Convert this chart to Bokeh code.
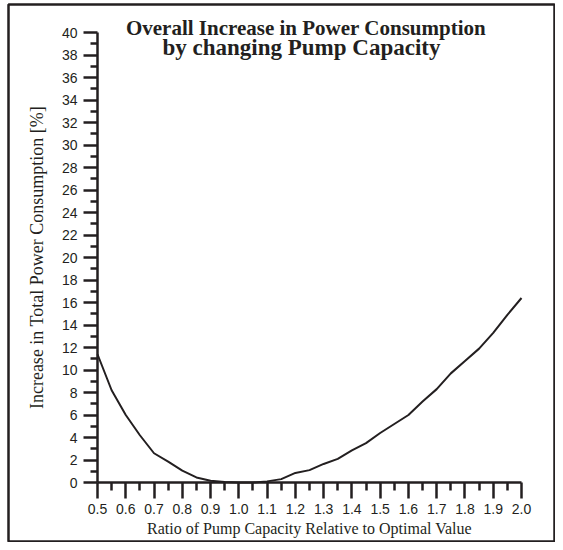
from bokeh.plotting import figure
from bokeh.models import FixedTicker, Range1d, Label
from bokeh.embed import file_html
from bokeh.resources import INLINE

# ---- data ----
ratio = [0.50, 0.55, 0.60, 0.65, 0.70, 0.75, 0.80, 0.85, 0.90, 0.95,
         1.00, 1.05, 1.10, 1.15, 1.20, 1.25, 1.30, 1.35, 1.40, 1.45,
         1.50, 1.55, 1.60, 1.65, 1.70, 1.75, 1.80, 1.85, 1.90, 1.95, 2.00]
increase = [11.4, 8.2, 6.0, 4.2, 2.6, 1.85, 1.05, 0.45, 0.15, 0.05,
            0.0, 0.0, 0.1, 0.3, 0.85, 1.1, 1.65, 2.1, 2.85, 3.5,
            4.4, 5.2, 6.0, 7.2, 8.3, 9.7, 10.8, 11.9, 13.3, 14.9, 16.4]

x_ticks = [0.5, 0.6, 0.7, 0.8, 0.9, 1.0, 1.1, 1.2, 1.3, 1.4,
           1.5, 1.6, 1.7, 1.8, 1.9, 2.0]
x_tick_labels = ["0.5", "0.6", "0.7", "0.8", "0.9", "1.0", "1.1", "1.2",
                 "1.3", "1.4", "1.5", "1.6", "1.7", "1.8", "1.9", "2.0"]
x_minor_ticks = [0.55, 0.65, 0.75, 0.85, 0.95, 1.05, 1.15, 1.25, 1.35,
                 1.45, 1.55, 1.65, 1.75, 1.85, 1.95]
y_ticks = [0, 2, 4, 6, 8, 10, 12, 14, 16, 18, 20, 22, 24, 26, 28, 30,
           32, 34, 36, 38, 40]
y_tick_labels = [str(v) for v in y_ticks]
y_minor_ticks = [1, 3, 5, 7, 9, 11, 13, 15, 17, 19, 21, 23, 25, 27, 29,
                 31, 33, 35, 37, 39]

title_lines = ["Overall Increase in Power Consumption",
               "by changing Pump Capacity"]
x_label = "Ratio of Pump Capacity Relative to Optimal Value"
y_label = "Increase in Total Power Consumption [%]"

INK = "#231f20"
SANS = "Liberation Sans"
SERIF = "Liberation Serif"

# ---- layout (pixels) ----
W, H = 555, 542
FL, FT, FR, FB = 8, 4, 554, 541          # outer frame box (drawn as outline)
AX_X0, AX_X1 = 97, 521                   # pixel of x = 0.5 and x = 2.0
AX_Y0, AX_Y1 = 482, 32                   # pixel of y = 0 and y = 40
x0, x1 = x_ticks[0], x_ticks[-1]
y0, y1 = y_ticks[0], y_ticks[-1]
sx = (AX_X1 - AX_X0) / (x1 - x0)
sy = (AX_Y0 - AX_Y1) / (y1 - y0)
xr = Range1d(x0 - (AX_X0 - FL) / sx, x1 + (FR - AX_X1) / sx)
yr = Range1d(y0 - (FB - AX_Y0) / sy, y1 + (AX_Y1 - FT) / sy)

p = figure(width=W, height=H, output_backend="svg", toolbar_location=None,
           x_range=xr, y_range=yr,
           min_border_left=FL, min_border_right=W - FR,
           min_border_top=FT, min_border_bottom=H - FB)
p.grid.visible = False
p.outline_line_color = INK
p.outline_line_width = 2.5
p.background_fill_color = "white"
p.border_fill_color = "white"

p.line(ratio, increase, line_width=2, line_color=INK)

# x axis
xa = p.xaxis[0]
xa.fixed_location = y0
xa.bounds = (x0, x1)
xa.ticker = FixedTicker(ticks=x_ticks, minor_ticks=x_minor_ticks)
xa.major_label_overrides = dict(zip(x_ticks, x_tick_labels))
xa.axis_line_width = 2.5
xa.axis_line_color = INK
xa.major_tick_line_width = 2.5
xa.minor_tick_line_width = 2.5
xa.major_tick_line_color = INK
xa.minor_tick_line_color = INK
xa.major_tick_in = 0
xa.major_tick_out = 16
xa.minor_tick_in = 0
xa.minor_tick_out = 8
xa.major_label_standoff = 5
xa.major_label_text_font = SANS
xa.major_label_text_font_size = "14px"
xa.major_label_text_color = INK
xa.axis_label = x_label
xa.axis_label_text_font = SERIF
xa.axis_label_text_font_style = "normal"
xa.axis_label_text_font_size = "16px"
xa.axis_label_text_color = INK
xa.axis_label_standoff = 3

# y axis
ya = p.yaxis[0]
ya.fixed_location = x0
ya.bounds = (y0, y1)
ya.ticker = FixedTicker(ticks=y_ticks, minor_ticks=y_minor_ticks)
ya.major_label_overrides = dict(zip(y_ticks, y_tick_labels))
ya.axis_line_width = 2.5
ya.axis_line_color = INK
ya.major_tick_line_width = 2.5
ya.minor_tick_line_width = 2.5
ya.major_tick_line_color = INK
ya.minor_tick_line_color = INK
ya.major_tick_in = 0
ya.major_tick_out = 14
ya.minor_tick_in = 0
ya.minor_tick_out = 7
ya.major_label_standoff = 6
ya.major_label_text_font = SANS
ya.major_label_text_font_size = "14px"
ya.major_label_text_color = INK
ya.axis_label = y_label
ya.axis_label_text_font = SERIF
ya.axis_label_text_font_style = "normal"
ya.axis_label_text_font_size = "18px"
ya.axis_label_text_color = INK
ya.axis_label_standoff = 12

# title (two centred lines over the plot area)
title_px = [(305.5, 27, "21px"), (301, 47, "23px")]
for txt, (tx, ty, fs) in zip(title_lines, title_px):
    p.add_layout(Label(x=x0 + (tx - AX_X0) / sx, y=y0 + (AX_Y0 - ty) / sy,
                       text=txt, text_font=SERIF,
                       text_font_style="bold", text_font_size=fs,
                       text_color=INK, text_baseline="middle",
                       text_align="center"))

open("out.html", "w").write(file_html(p, INLINE))
